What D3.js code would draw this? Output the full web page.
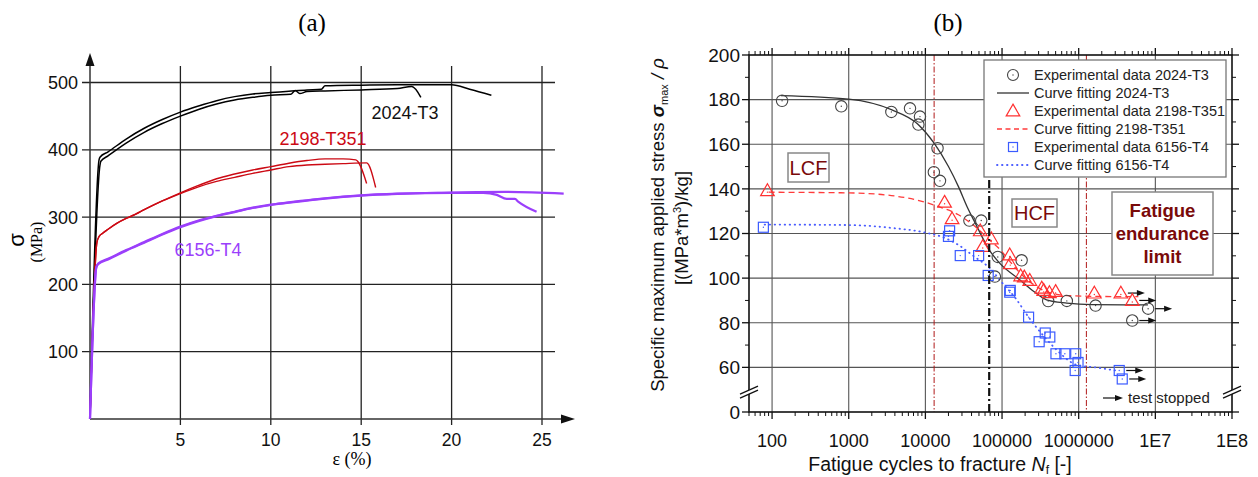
<!DOCTYPE html>
<html><head><meta charset="utf-8">
<script src="https://cdn.jsdelivr.net/npm/d3@7"></script>
<style>body{margin:0;background:#fff}svg{display:block}text{font-family:"Liberation Sans",Arial,sans-serif}</style>
</head><body><svg id="c" width="1258" height="477"></svg>
<script>
// ---------------- DATA: panel (a) tensile curves [strain %, stress MPa]
const strainTicks = [5, 10, 15, 20, 25];
const stressTicks = [100, 200, 300, 400, 500];
const alloyNames = ["2024-T3", "2198-T351", "6156-T4"];
const c2024a = [[0,0],[0.5,385],[0.55,389],[1,397],[2,416],[3,432],[4,445],[5,456],[6,465],[7,473],[8,479],[9,483],[10,485],[11,487],[12,489],[12.8,490],[13,495],[15,496],[17,496.5],[20,496.5],[21,490],[22.2,481]];
const c2024b = [[0,0],[0.55,377],[0.6,383],[1,391],[2,410],[3,426],[4,439],[5,450],[6,460],[7,468],[8,474],[9,478],[10,481],[11.1,482.5],[11.35,488],[11.6,483.5],[12,486.5],[13,487.5],[15,489],[17,491],[17.8,494],[18.3,478]];
const c2198a = [[0,0],[0.38,262],[0.5,271],[0.7,276],[1,282],[1.5,291],[2,298],[2.5,304],[3,311],[4,324],[5,336],[6,347],[7,357],[8,364],[9,370],[10,375],[11,380],[12,384],[13,386.5],[14,386.5],[14.7,385],[15.3,350]];
const c2198b = [[0,0],[0.38,262],[0.5,271],[0.7,276],[1,282],[1.5,291],[2,298],[2.5,304],[3,311],[4,324],[5,335],[6,345],[7,353],[8,359],[9,365],[10,370],[11,375],[12,377.5],[13,378.5],[14,379.5],[15.3,380.5],[15.8,344]];
const c6156a = [[0,0],[0.35,226],[0.45,231],[1,238],[2,251],[3,263],[4,275],[5,286],[6,295],[7,302],[8,308],[9,314],[10,318.5],[11,322],[12,325],[13,328],[14,330.5],[15,332.5],[17,335],[20,336.5],[23,337.5],[26.2,335]];
const c6156b = [[0,0],[0.35,225],[0.45,230],[1,237],[2,250],[3,262],[4,274],[5,285],[6,294],[7,301.5],[8,307.5],[9,313.5],[10,318],[11,321.5],[12,324.5],[13,327.5],[14,330],[15,332],[17,334.5],[20,336],[21.75,336],[22.5,333],[23.05,327],[23.5,327],[23.7,322.6],[24.7,307.8]];

// ---------------- DATA: panel (b) fatigue [cycles, specific stress, stopped?]
const cycleTicks = [100, 1e3, 1e4, 1e5, 1e6, 1e7, 1e8];
const cycleTickLabels = ["100", "1000", "10000", "100000", "1000000", "1E7", "1E8"];
const specTicks = [40, 60, 80, 100, 120, 140, 160, 180, 200];
const specTickLabels = ["0", "60", "80", "100", "120", "140", "160", "180", "200"];
const exp2024 = [[135,179.5],[800,177],[3600,174.5],[6300,176.1],[8500,172.4],[8100,168.8],[14400,158.2],[12900,147.5],[15500,143.6],[37500,125.8],[53500,125.8],[88000,109.5],[80700,100.7],[180000,108],[400000,89.7],[700000,89.8],[1660000,87.7],[8050000,86.3,1],[5000000,81,1]];
const exp2198 = [[87,139.2],[17800,134],[22300,126.6],[52000,121.2],[72600,117.6],[56000,114.2],[126000,110.4],[128000,106.5],[175000,101],[195000,100.5],[230000,99],[330000,95.5],[350000,94.5],[415000,93.5],[500000,94],[1600000,93.3],[3550000,93.3,1],[5000000,90,1]];
const exp6156 = [[77,122.8],[20700,121.2],[20000,118.7],[28500,110.1],[49500,110.1],[66000,101.2],[126000,93.7],[128000,94.5],[222000,82.5],[366000,75.4],[420000,73.6],[305000,71.5],[505000,66.1],[660000,66.1],[915000,66.1],[980000,62.2],[900000,58.6],[3380000,58.6,1],[3700000,54.8,1]];
const fit2024 = [[130,181.8],[1000,180.2],[3600,175.5],[8000,169],[13000,160.5],[20000,150],[27000,141],[35000,132],[45000,124.5],[68000,112.7],[93000,106.7],[170000,99.3],[260000,94],[380000,90.3],[700000,88.8],[1500000,88.1],[8000000,88]];
const fit2198 = [[90,138.5],[1000,138.2],[3600,137],[10000,134],[15000,132],[27000,128.4],[45000,123],[68000,117.2],[93000,113],[130000,107],[170000,102.5],[260000,97],[415000,93.5],[700000,92.2],[1800000,91.8],[6000000,91.7]];
const fit6156 = [[80,124],[1000,123.8],[3600,122.5],[10000,120.4],[18000,118],[28000,114.5],[42000,110],[69000,104.5],[100000,98],[150000,91],[222000,82.5],[350000,74],[510000,68],[930000,61.2],[1900000,59.7],[3400000,58.3]];
const regionLines = [13000, 1260000];   // red dash-dot limits
const lcfHcfLine = [68000];             // black dash-dot
const legendLabels = ["Experimental data 2024-T3","Curve fitting 2024-T3","Experimental data 2198-T351","Curve fitting 2198-T351","Experimental data 6156-T4","Curve fitting 6156-T4"];

const svg = d3.select("#c");

// =============== PANEL A ===============
const xA = d3.scaleLinear().domain([0, 25]).range([90, 542]);
const yA = d3.scaleLinear().domain([0, 500]).range([419, 82.5]);
const gA = svg.append("g");
gA.append("text").attr("x", 312).attr("y", 31).attr("text-anchor","middle")
  .style("font-family","'Liberation Serif',serif").style("font-size","25px").text("(a)");
// grid
gA.selectAll(".hg").data(stressTicks).join("line")
  .attr("x1", xA(0)-8).attr("x2", 555).attr("y1", d=>yA(d)).attr("y2", d=>yA(d))
  .attr("stroke","#222").attr("stroke-width",1.3);
gA.selectAll(".vg").data(strainTicks).join("line")
  .attr("x1", d=>xA(d)).attr("x2", d=>xA(d)).attr("y1", 66).attr("y2", yA(0)+6)
  .attr("stroke","#222").attr("stroke-width",1.3);
// axes with arrows
gA.append("line").attr("x1",xA(0)).attr("x2",xA(0)).attr("y1",yA(0)).attr("y2",64).attr("stroke","#333").attr("stroke-width",1.5);
gA.append("path").attr("d",`M${xA(0)},53 L${xA(0)-4.5},66 L${xA(0)+4.5},66 Z`).attr("fill","#111");
gA.append("line").attr("x1",xA(0)).attr("x2",562).attr("y1",yA(0)).attr("y2",yA(0)).attr("stroke","#333").attr("stroke-width",1.5);
gA.append("path").attr("d",`M575,${yA(0)} L561,${yA(0)-4.5} L561,${yA(0)+4.5} Z`).attr("fill","#111");
// tick labels
gA.selectAll(".yl").data(stressTicks).join("text")
  .attr("x", 78).attr("y", d=>yA(d)).attr("dy","0.36em").attr("text-anchor","end")
  .style("font-size","18px").attr("fill","#111").text(d=>d);
gA.selectAll(".xl").data(strainTicks).join("text")
  .attr("x", d=>xA(d)).attr("y", 446).attr("text-anchor","middle")
  .style("font-size","17.5px").attr("fill","#111").text(d=>d);
gA.append("text").attr("x", 352).attr("y", 465).attr("text-anchor","middle")
  .style("font-family","'Liberation Serif',serif").style("font-size","18px").text("ε (%)");
gA.append("text").attr("transform","translate(24,240) rotate(-90)").attr("text-anchor","middle")
  .style("font-size","22px").text("σ");
gA.append("text").attr("transform","translate(42,242) rotate(-90)").attr("text-anchor","middle")
  .style("font-family","'Liberation Serif',serif").style("font-size","16px").text("(MPa)");
// curves
const lineA = d3.line().x(d=>xA(d[0])).y(d=>yA(d[1])).curve(d3.curveMonotoneX);
const curvesA = [
  {d:c2024a,c:"#000",w:1.5},{d:c2024b,c:"#000",w:1.5},
  {d:c2198a,c:"#cc0a14",w:1.4},{d:c2198b,c:"#cc0a14",w:1.4},
  {d:c6156a,c:"#9b3ffb",w:2.2},{d:c6156b,c:"#9b3ffb",w:2.2}];
gA.selectAll(".ca").data(curvesA).join("path").attr("d",d=>lineA(d.d))
  .attr("fill","none").attr("stroke",d=>d.c).attr("stroke-width",d=>d.w).attr("stroke-linejoin","round");
// labels
gA.append("text").attr("x",405).attr("y",113).attr("dy","0.36em").attr("text-anchor","middle").style("font-size","18px").attr("fill","#111").text(alloyNames[0]);
gA.append("text").attr("x",323).attr("y",139).attr("dy","0.36em").attr("text-anchor","middle").style("font-size","18px").attr("fill","#cc0a14").text(alloyNames[1]);
gA.append("text").attr("x",208).attr("y",250).attr("dy","0.36em").attr("text-anchor","middle").style("font-size","18px").attr("fill","#9b3ffb").text(alloyNames[2]);

// =============== PANEL B ===============
const xB = d3.scaleLog().domain([50, 1e8]).range([749, 1232]);
const yB = d3.scaleLinear().domain([40, 200]).range([412, 55]);
const gB = svg.append("g");
gB.append("text").attr("x", 948).attr("y", 31).attr("text-anchor","middle")
  .style("font-family","'Liberation Serif',serif").style("font-size","25px").text("(b)");
// grid
gB.selectAll(".vg").data(cycleTicks.filter(d=>d<1e8)).join("line")
  .attr("x1",d=>xB(d)).attr("x2",d=>xB(d)).attr("y1",yB(200)).attr("y2",yB(40))
  .attr("stroke","#555").attr("stroke-width",1.1);
gB.selectAll(".hg").data(specTicks.filter(d=>d>40&&d<200)).join("line")
  .attr("x1",xB(50)).attr("x2",xB(1e8)).attr("y1",d=>yB(d)).attr("y2",d=>yB(d))
  .attr("stroke","#555").attr("stroke-width",1.1);
// vertical region lines
gB.selectAll(".rl").data(regionLines).join("line")
  .attr("x1",d=>xB(d)).attr("x2",d=>xB(d)).attr("y1",yB(200)).attr("y2",yB(40))
  .attr("stroke","#b01818").attr("stroke-width",1).attr("stroke-dasharray","6,2,1.5,2");
// frame
gB.append("rect").attr("x",xB(50)).attr("y",yB(200)).attr("width",xB(1e8)-xB(50)).attr("height",yB(40)-yB(200))
  .attr("fill","none").attr("stroke","#111").attr("stroke-width",1.6);
// log ticks top/bottom
const minor = [];
for (let e=1;e<8;e++) for (let k=2;k<10;k++){const v=k*Math.pow(10,e); if(v>=50&&v<1e8) minor.push(v);}
[yB(40), yB(200)].forEach((yy,i)=>{
  const s = i===0?1:-1;
  gB.selectAll(null).data(minor).join("line").attr("x1",d=>xB(d)).attr("x2",d=>xB(d))
    .attr("y1",yy).attr("y2",yy+s*4).attr("stroke","#111").attr("stroke-width",1);
  gB.selectAll(null).data(cycleTicks).join("line").attr("x1",d=>xB(d)).attr("x2",d=>xB(d))
    .attr("y1",yy).attr("y2",yy+s*7).attr("stroke","#111").attr("stroke-width",1.3);
});
// y ticks left/right
const yMinor = [70,90,110,130,150,170,190];
[xB(50), xB(1e8)].forEach((xx,i)=>{
  const s = i===0?-1:1;
  gB.selectAll(null).data(yMinor).join("line").attr("x1",xx).attr("x2",xx+s*4)
    .attr("y1",d=>yB(d)).attr("y2",d=>yB(d)).attr("stroke","#111").attr("stroke-width",1);
  gB.selectAll(null).data(specTicks).join("line").attr("x1",xx).attr("x2",xx+s*7)
    .attr("y1",d=>yB(d)).attr("y2",d=>yB(d)).attr("stroke","#111").attr("stroke-width",1.3);
});
// axis break marks
[xB(50), xB(1e8)].forEach(xx=>{
  const yb = yB(48.5);
  gB.append("path").attr("d",`M${xx-9},${yb+1} L${xx+9},${yb-7} L${xx+9},${yb-3} L${xx-9},${yb+5} Z`).attr("fill","#fff");
  gB.append("line").attr("x1",xx-9).attr("y1",yb+1).attr("x2",xx+9).attr("y2",yb-7).attr("stroke","#111").attr("stroke-width",1.3);
  gB.append("line").attr("x1",xx-9).attr("y1",yb+5).attr("x2",xx+9).attr("y2",yb-3).attr("stroke","#111").attr("stroke-width",1.3);
});
// tick labels
gB.selectAll(".yl").data(specTicks).join("text")
  .attr("x",740).attr("y",d=>yB(d)).attr("dy","0.36em").attr("text-anchor","end")
  .style("font-size","19px").attr("fill","#111").text((d,i)=>specTickLabels[i]);
gB.selectAll(".xl").data(cycleTicks).join("text")
  .attr("x",d=>xB(d)).attr("y",447).attr("text-anchor","middle")
  .style("font-size","18px").attr("fill","#111").text((d,i)=>cycleTickLabels[i]);
// axis titles
const xt = gB.append("text").attr("x",940).attr("y",471).attr("text-anchor","middle").style("font-size","19.5px").attr("fill","#111");
xt.append("tspan").text("Fatigue cycles to fracture ");
xt.append("tspan").style("font-style","italic").text("N");
xt.append("tspan").attr("dy",3).style("font-size","12px").text("f");
xt.append("tspan").attr("dy",-3).text(" [-]");
const yt1 = gB.append("text").attr("transform","translate(664,225) rotate(-90)").attr("text-anchor","middle").style("font-size","18.5px").attr("fill","#111");
yt1.append("tspan").text("Specific maximum applied stress ");
yt1.append("tspan").style("font-style","italic").style("font-weight","bold").text("σ");
yt1.append("tspan").attr("dy",4).style("font-size","11px").text("max");
yt1.append("tspan").attr("dy",-4).style("font-style","italic").text(" / ρ");
const yt2 = gB.append("text").attr("transform","translate(688,228) rotate(-90)").attr("text-anchor","middle").style("font-size","18.5px").attr("fill","#111");
yt2.append("tspan").text("[(MPa*m");
yt2.append("tspan").attr("dy",-7).style("font-size","11px").text("3");
yt2.append("tspan").attr("dy",7).text(")/kg]");

// fitted curves
const lineB = d3.line().x(d=>xB(d[0])).y(d=>yB(d[1])).curve(d3.curveMonotoneX);
gB.append("path").attr("d",lineB(fit2198)).attr("fill","none").attr("stroke","#ff3b3b").attr("stroke-width",1.3).attr("stroke-dasharray","6,4");
gB.append("path").attr("d",lineB(fit6156)).attr("fill","none").attr("stroke","#4a5cff").attr("stroke-width",1.8).attr("stroke-dasharray","0.5,4.5").attr("stroke-linecap","round");
gB.append("path").attr("d",lineB(fit2024)).attr("fill","none").attr("stroke","#333").attr("stroke-width",1.3);

// markers
const triPath = d3.symbol().type(d3.symbolTriangle).size(80)();
function drawPoints(data, kind, color){
  const g = gB.append("g");
  data.forEach(d=>{
    const x=xB(d[0]), y=yB(d[1]);
    if(kind==="c") g.append("circle").attr("cx",x).attr("cy",y).attr("r",5.7).attr("fill","none").attr("stroke",color).attr("stroke-width",1.1);
    if(kind==="t") g.append("path").attr("transform",`translate(${x},${y+1})`).attr("d",triPath).attr("fill","none").attr("stroke",color).attr("stroke-width",1.2);
    if(kind==="s") g.append("rect").attr("x",x-5).attr("y",y-5).attr("width",10).attr("height",10).attr("fill","none").attr("stroke",color).attr("stroke-width",1.2);
    g.append("circle").attr("cx",x).attr("cy",y+(kind==="t"?1.5:0)).attr("r",0.7).attr("fill",color);
    if(d[2]) {
      g.append("line").attr("x1",x+7).attr("x2",x+18).attr("y1",y).attr("y2",y).attr("stroke","#111").attr("stroke-width",1.2);
      g.append("path").attr("d",`M${x+24},${y} L${x+16},${y-3} L${x+16},${y+3} Z`).attr("fill","#111");
    }
  });
}
drawPoints(exp2024,"c","#444");
drawPoints(exp2198,"t","#ff3030");
drawPoints(exp6156,"s","#3b5bff");

// LCF/HCF line
gB.selectAll(".bl").data(lcfHcfLine).join("line")
  .attr("x1",d=>xB(d)).attr("x2",d=>xB(d)).attr("y1",180).attr("y2",yB(40))
  .attr("stroke","#111").attr("stroke-width",2.2).attr("stroke-dasharray","8,3,2,3");

// region boxes
function box(x0,y0,x1,y1,lines,bold){
  gB.append("rect").attr("x",x0).attr("y",y0).attr("width",x1-x0).attr("height",y1-y0).attr("fill","#fff").attr("stroke","#888").attr("stroke-width",1.5);
  const n=lines.length, cy=(y0+y1)/2, lh=23;
  lines.forEach((t,i)=>gB.append("text").attr("x",(x0+x1)/2).attr("y",cy+(i-(n-1)/2)*lh).attr("dy","0.36em")
    .attr("text-anchor","middle").style("font-size",bold?"18.5px":"20px").style("font-weight",bold?"bold":"normal").attr("fill","#7a0a0a").text(t));
}
box(788,153,829,182,["LCF"],false);
box(1012,199,1057,227,["HCF"],false);
box(1112,192,1213,275,["Fatigue","endurance","limit"],true);

// legend
const lg = gB.append("g");
lg.append("rect").attr("x",984).attr("y",60).attr("width",242).attr("height",117).attr("fill","#fff").attr("stroke","#777").attr("stroke-width",1.3);
const legY = d3.scaleLinear().domain([0,5]).range([75,165]);
legendLabels.forEach((t,i)=>{
  const y = legY(i), cx=1013;
  if(i===0){lg.append("circle").attr("cx",cx).attr("cy",y).attr("r",5.5).attr("fill","none").attr("stroke","#444").attr("stroke-width",1.1);lg.append("circle").attr("cx",cx).attr("cy",y).attr("r",0.7).attr("fill","#444");}
  if(i===2){lg.append("path").attr("transform",`translate(${cx},${y+1})`).attr("d",triPath).attr("fill","none").attr("stroke","#ff3030").attr("stroke-width",1.2);}
  if(i===4){lg.append("rect").attr("x",cx-4.5).attr("y",y-4.5).attr("width",9).attr("height",9).attr("fill","none").attr("stroke","#3b5bff").attr("stroke-width",1.2);lg.append("circle").attr("cx",cx).attr("cy",y).attr("r",0.7).attr("fill","#3b5bff");}
  if(i===1) lg.append("line").attr("x1",997).attr("x2",1029).attr("y1",y).attr("y2",y).attr("stroke","#333").attr("stroke-width",1.3);
  if(i===3) lg.append("line").attr("x1",997).attr("x2",1029).attr("y1",y).attr("y2",y).attr("stroke","#ff3b3b").attr("stroke-width",1.3).attr("stroke-dasharray","5,3.5");
  if(i===5) lg.append("line").attr("x1",997).attr("x2",1029).attr("y1",y).attr("y2",y).attr("stroke","#4a5cff").attr("stroke-width",1.8).attr("stroke-dasharray","0.5,4.5").attr("stroke-linecap","round");
  lg.append("text").attr("x",1034).attr("y",y).attr("dy","0.36em").style("font-size","14.5px").attr("fill","#222").text(t);
});
// test stopped note
gB.append("line").attr("x1",1103).attr("x2",1116).attr("y1",398).attr("y2",398).attr("stroke","#111").attr("stroke-width",1.2);
gB.append("path").attr("d","M1123,398 L1115,395 L1115,401 Z").attr("fill","#111");
gB.append("text").attr("x",1128).attr("y",398).attr("dy","0.36em").style("font-size","15px").attr("fill","#222").text("test stopped");
</script></body></html>
